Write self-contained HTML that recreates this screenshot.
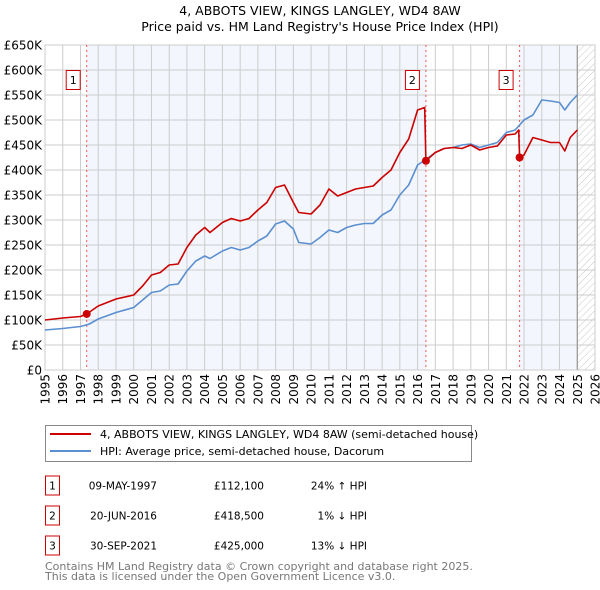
<!DOCTYPE html>
<html><head><meta charset="utf-8"><style>
body{margin:0;background:#fff;}
svg{display:block;font-family:"DejaVu Sans","Liberation Sans",sans-serif;}
</style></head><body>
<svg id="c" width="600" height="590" viewBox="0 0 600 590" xmlns="http://www.w3.org/2000/svg">
<defs><pattern id="hatch" width="5" height="5" patternUnits="userSpaceOnUse" patternTransform="rotate(45)"><line x1="0" y1="0" x2="0" y2="5" stroke="#bbb" stroke-width="0.8"/></pattern></defs>
<text x="320" y="15" text-anchor="middle" font-size="12.5">4, ABBOTS VIEW, KINGS LANGLEY, WD4 8AW</text>
<text x="320" y="31" text-anchor="middle" font-size="12.5">Price paid vs. HM Land Registry's House Price Index (HPI)</text>
<g id="plot"></g>
<g>
<rect x="45.5" y="425.5" width="426" height="36" fill="#fff" stroke="#888"/>
<line x1="50" y1="434" x2="91" y2="434" stroke="#cc0000" stroke-width="2"/>
<text x="100" y="438" font-size="11">4, ABBOTS VIEW, KINGS LANGLEY, WD4 8AW (semi-detached house)</text>
<line x1="50" y1="451" x2="91" y2="451" stroke="#5b8fd0" stroke-width="2"/>
<text x="100" y="455" font-size="11">HPI: Average price, semi-detached house, Dacorum</text>
</g>
<g id="table" font-size="10.5"></g>
<text x="45" y="570" font-size="11" fill="#777">Contains HM Land Registry data © Crown copyright and database right 2025.</text>
<text x="45" y="580" font-size="11" fill="#777">This data is licensed under the Open Government Licence v3.0.</text>
</svg>
<script>
const hpiYears=[1995,1996,1997,1997.5,1998,1999,2000,2000.5,2001,2001.5,2002,2002.5,2003,2003.5,2004,2004.3,2005,2005.5,2006,2006.5,2007,2007.5,2008,2008.5,2009,2009.3,2010,2010.5,2011,2011.5,2012,2012.5,2013,2013.5,2014,2014.5,2015,2015.5,2016,2016.5,2017,2017.5,2018,2018.5,2019,2019.5,2020,2020.5,2021,2021.5,2022,2022.5,2023,2023.5,2024,2024.3,2024.6,2025];
const hpiValues=[80,83,87,92,102,115,125,140,155,158,170,172,198,218,228,223,238,245,240,245,258,268,292,298,282,255,252,265,280,275,285,290,293,293,310,320,350,370,410,422,435,443,445,450,452,445,450,455,475,480,500,510,540,538,535,520,535,550];
const priceYears=[1995,1996,1997,1997.35,1998,1999,2000,2000.5,2001,2001.5,2002,2002.5,2003,2003.5,2004,2004.3,2005,2005.5,2006,2006.5,2007,2007.5,2008,2008.5,2009,2009.3,2010,2010.5,2011,2011.5,2012,2012.5,2013,2013.5,2014,2014.5,2015,2015.5,2016,2016.4,2016.47,2017,2017.5,2018,2018.5,2019,2019.5,2020,2020.5,2021,2021.5,2021.7,2021.75,2022,2022.5,2023,2023.5,2024,2024.3,2024.6,2025];
const priceValues=[100,104,107,112,128,142,150,168,190,195,210,212,245,270,285,275,295,303,298,303,320,335,365,370,335,315,312,330,362,348,355,362,365,368,385,400,435,462,520,525,418.5,435,443,445,443,450,440,445,448,470,472,480,425,430,465,460,455,455,438,465,480];
const saleYears=[1997.35,2016.47,2021.75];
const saleValues=[112.1,418.5,425];
const saleLabels=["1","2","3"];
const saleDates=["09-MAY-1997","20-JUN-2016","30-SEP-2021"];
const salePrices=["£112,100","£418,500","£425,000"];
const saleDiffs=["24% ↑ HPI","1% ↓ HPI","13% ↓ HPI"];
const yTicks=[0,50,100,150,200,250,300,350,400,450,500,550,600,650];
const yTickLabels=["£0","£50K","£100K","£150K","£200K","£250K","£300K","£350K","£400K","£450K","£500K","£550K","£600K","£650K"];
const xTicks=[1995,1996,1997,1998,1999,2000,2001,2002,2003,2004,2005,2006,2007,2008,2009,2010,2011,2012,2013,2014,2015,2016,2017,2018,2019,2020,2021,2022,2023,2024,2025,2026];

const L=45,R=595,T=45,B=370;
const X=y=>L+(y-1995)*(R-L)/31;
const Y=v=>B-v*(B-T)/650;
const NS="http://www.w3.org/2000/svg";
const plot=document.getElementById('plot');
function mk(tag,attrs,parent){const e=document.createElementNS(NS,tag);for(const k in attrs)e.setAttribute(k,attrs[k]);(parent||plot).appendChild(e);return e;}

let e=mk('rect',{x:L,y:T,width:R-L,height:B-T,fill:'#fff'});


e=mk('rect',{x:X(saleYears[0]),y:T,width:X(saleYears[1])-X(saleYears[0]),height:B-T,fill:'#f3f6fd'});


e=mk('rect',{x:X(saleYears[2]),y:T,width:X(2025)-X(saleYears[2]),height:B-T,fill:'#f3f6fd'});


e=mk('rect',{x:X(2025),y:T,width:R-X(2025),height:B-T,fill:'url(#hatch)'});



yTicks.forEach((v,i)=>{
  let g=mk('line',{x1:L,x2:R,y1:Y(v),y2:Y(v),stroke:'#ccc','stroke-width':1});
  
  
  let t=mk('text',{x:L-3,y:Y(v)+4.5,'text-anchor':'end','font-size':12});
  t.textContent=yTickLabels[i];
  
  
});
xTicks.forEach(yr=>{
  let g=mk('line',{x1:X(yr),x2:X(yr),y1:T,y2:B,stroke:'#ccc','stroke-width':1});
  
  
  let t=mk('text',{x:0,y:0,'text-anchor':'end','font-size':12,transform:`translate(${X(yr)+4.5},${B+4}) rotate(-90)`});
  t.textContent=yr;
  
  
});
e=mk('line',{x1:X(2025),x2:X(2025),y1:T,y2:B,stroke:'#888','stroke-width':1});


e=mk('rect',{x:L,y:T,width:R-L,height:B-T,fill:'none',stroke:'#ccc'});



saleYears.forEach((yr,i)=>{
  let l=mk('line',{x1:X(yr),x2:X(yr),y1:T,y2:B,stroke:'#e55','stroke-width':1,'stroke-dasharray':'2,3'});
  
  
});

function path(xs,vs,color,name){
  const d=xs.map((x,i)=>(i?'L':'M')+X(x).toFixed(1)+','+Y(vs[i]).toFixed(1)).join('');
  const p=mk('path',{d:d,fill:'none',stroke:color,'stroke-width':1.6,'stroke-linejoin':'round'});
  
  
}
path(hpiYears,hpiValues,'#5b8fd0','hpi-line');
path(priceYears,priceValues,'#cc0000','price-paid-line');

saleYears.forEach((yr,i)=>{
  let c=mk('circle',{cx:X(yr),cy:Y(saleValues[i]),r:4,fill:'#cc0000'});
  
  
  let bx=mk('rect',{x:X(yr)-20.5,y:70.5,width:14,height:19,fill:'#fff',stroke:'#cc0000'});
  
  
  let t=mk('text',{x:X(yr)-13.5,y:84,'text-anchor':'middle','font-size':11});
  t.textContent=saleLabels[i];
  
  
});

const tb=document.getElementById('table');
const rowY=[485.5,515.5,545.5];
saleLabels.forEach((lab,i)=>{
  const y=rowY[i];
  let b=mk('rect',{x:45.5,y:y-9.5,width:14,height:19,fill:'#fff',stroke:'#cc0000'},tb);
  
  
  let t=mk('text',{x:52.5,y:y+4,'text-anchor':'middle'},tb);t.textContent=lab;
  
  
  t=mk('text',{x:157,y:y+4,'text-anchor':'end'},tb);t.textContent=saleDates[i];
  
  
  t=mk('text',{x:264,y:y+4,'text-anchor':'end'},tb);t.textContent=salePrices[i];
  
  
  t=mk('text',{x:367,y:y+4,'text-anchor':'end'},tb);t.textContent=saleDiffs[i];
  
  
});
</script>
</body></html>
